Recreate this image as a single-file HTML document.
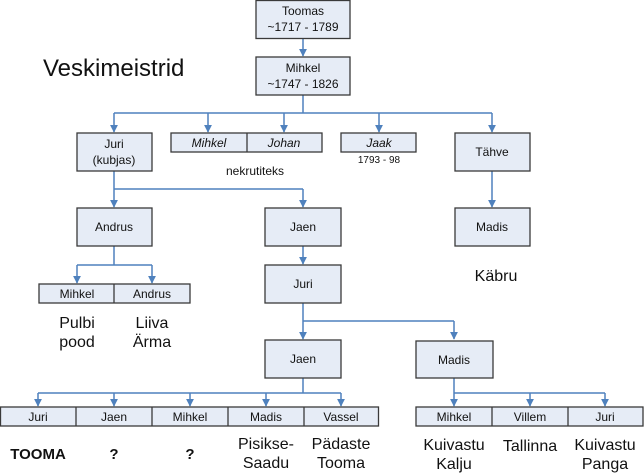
<!DOCTYPE html>
<html><head><meta charset="utf-8"><style>
html,body{margin:0;padding:0;background:#fff;}
svg{display:block;}
text{font-family:"Liberation Sans",sans-serif;fill:#111;}
</style></head><body>
<svg width="644" height="474" viewBox="0 0 644 474" xmlns="http://www.w3.org/2000/svg">
<defs>
<marker id="a" viewBox="0 0 10 10" refX="9" refY="5" markerWidth="8" markerHeight="8" markerUnits="userSpaceOnUse" orient="auto">
<path d="M0,0 L10,5 L0,10 z" fill="#4f81bd"/></marker>
</defs>
<g stroke="#4f81bd" stroke-width="1.5" fill="none">
<line x1="303" y1="38" x2="303" y2="56" marker-end="url(#a)"/>
<polyline points="303,95 303,113"/>
<line x1="114" y1="113" x2="492" y2="113"/>
<line x1="114" y1="113" x2="114" y2="132" marker-end="url(#a)"/>
<line x1="208" y1="113" x2="208" y2="132" marker-end="url(#a)"/>
<line x1="284" y1="113" x2="284" y2="132" marker-end="url(#a)"/>
<line x1="379" y1="113" x2="379" y2="132" marker-end="url(#a)"/>
<line x1="492" y1="113" x2="492" y2="132" marker-end="url(#a)"/>
<line x1="114" y1="171" x2="114" y2="189"/>
<line x1="114" y1="189" x2="303" y2="189"/>
<line x1="114" y1="189" x2="114" y2="207" marker-end="url(#a)"/>
<line x1="303" y1="189" x2="303" y2="207" marker-end="url(#a)"/>
<line x1="492" y1="171" x2="492" y2="207" marker-end="url(#a)"/>
<line x1="114" y1="246" x2="114" y2="265"/>
<line x1="77" y1="265" x2="152" y2="265"/>
<line x1="77" y1="265" x2="77" y2="283" marker-end="url(#a)"/>
<line x1="152" y1="265" x2="152" y2="283" marker-end="url(#a)"/>
<line x1="303" y1="246" x2="303" y2="264" marker-end="url(#a)"/>
<line x1="303" y1="303" x2="303" y2="321"/>
<line x1="303" y1="321" x2="454" y2="321"/>
<line x1="303" y1="321" x2="303" y2="339" marker-end="url(#a)"/>
<line x1="454" y1="321" x2="454" y2="339" marker-end="url(#a)"/>
<line x1="303" y1="378" x2="303" y2="393"/>
<line x1="38" y1="393" x2="341" y2="393"/>
<line x1="38" y1="393" x2="38" y2="406" marker-end="url(#a)"/>
<line x1="114" y1="393" x2="114" y2="406" marker-end="url(#a)"/>
<line x1="190" y1="393" x2="190" y2="406" marker-end="url(#a)"/>
<line x1="266" y1="393" x2="266" y2="406" marker-end="url(#a)"/>
<line x1="341" y1="393" x2="341" y2="406" marker-end="url(#a)"/>
<line x1="454" y1="378" x2="454" y2="406" marker-end="url(#a)"/>
<line x1="454" y1="393" x2="605" y2="393"/>
<line x1="530" y1="393" x2="530" y2="406" marker-end="url(#a)"/>
<line x1="605" y1="393" x2="605" y2="406" marker-end="url(#a)"/>
</g>
<g fill="#e6ecf6" stroke="#3a3a3a" stroke-width="1.3">
<rect x="256" y="0.5" width="94" height="38"/>
<rect x="256" y="57" width="94" height="38"/>
<rect x="77" y="133" width="75" height="38"/>
<rect x="171" y="133" width="151" height="19"/>
<line x1="247" y1="133" x2="247" y2="152"/>
<rect x="341" y="133" width="75" height="19"/>
<rect x="455" y="133" width="75" height="38"/>
<rect x="77" y="208" width="75" height="38"/>
<rect x="265" y="208" width="76" height="38"/>
<rect x="455" y="208" width="75" height="38"/>
<rect x="39" y="284" width="151" height="19"/>
<line x1="114" y1="284" x2="114" y2="303"/>
<rect x="265" y="265" width="76" height="38"/>
<rect x="265" y="340" width="76" height="38"/>
<rect x="416" y="341" width="77" height="37"/>
<rect x="0.5" y="407" width="378" height="19"/>
<line x1="76" y1="407" x2="76" y2="426"/>
<line x1="152" y1="407" x2="152" y2="426"/>
<line x1="228" y1="407" x2="228" y2="426"/>
<line x1="304" y1="407" x2="304" y2="426"/>
<rect x="416" y="407" width="227" height="19"/>
<line x1="492" y1="407" x2="492" y2="426"/>
<line x1="568" y1="407" x2="568" y2="426"/>
</g>
<g font-size="12" text-anchor="middle">
<text x="303" y="15">Toomas</text>
<text x="303" y="31">~1717 - 1789</text>
<text x="303" y="72">Mihkel</text>
<text x="303" y="88">~1747 - 1826</text>
<text x="114" y="148">Juri</text>
<text x="114" y="164">(kubjas)</text>
<text x="209" y="147" font-style="italic">Mihkel</text>
<text x="284" y="147" font-style="italic">Johan</text>
<text x="379" y="147" font-style="italic">Jaak</text>
<text x="379" y="163" font-size="10">1793 - 98</text>
<text x="255" y="175">nekrutiteks</text>
<text x="492" y="156">Tähve</text>
<text x="114" y="231">Andrus</text>
<text x="303" y="231">Jaen</text>
<text x="492" y="231">Madis</text>
<text x="77" y="298">Mihkel</text>
<text x="152" y="298">Andrus</text>
<text x="303" y="288">Juri</text>
<text x="303" y="363">Jaen</text>
<text x="454" y="364">Madis</text>
<text x="38" y="421">Juri</text>
<text x="114" y="421">Jaen</text>
<text x="190" y="421">Mihkel</text>
<text x="266" y="421">Madis</text>
<text x="341" y="421">Vassel</text>
<text x="454" y="421">Mihkel</text>
<text x="530" y="421">Villem</text>
<text x="605" y="421">Juri</text>
</g>
<g font-size="16" text-anchor="middle">
<text x="77" y="328">Pulbi</text>
<text x="77" y="347">pood</text>
<text x="152" y="328">Liiva</text>
<text x="152" y="347">Ärma</text>
<text x="496" y="281">Käbru</text>
<text x="38" y="459" font-weight="bold" font-size="15">TOOMA</text>
<text x="114" y="459" font-weight="bold" font-size="15">?</text>
<text x="190" y="459" font-weight="bold" font-size="15">?</text>
<text x="266" y="449">Pisikse-</text>
<text x="266" y="468">Saadu</text>
<text x="341" y="449">Pädaste</text>
<text x="341" y="468">Tooma</text>
<text x="454" y="450">Kuivastu</text>
<text x="454" y="469">Kalju</text>
<text x="530" y="451">Tallinna</text>
<text x="605" y="450">Kuivastu</text>
<text x="605" y="469">Panga</text>
</g>
<text x="43" y="76" font-size="24">Veskimeistrid</text>
</svg>
</body></html>
